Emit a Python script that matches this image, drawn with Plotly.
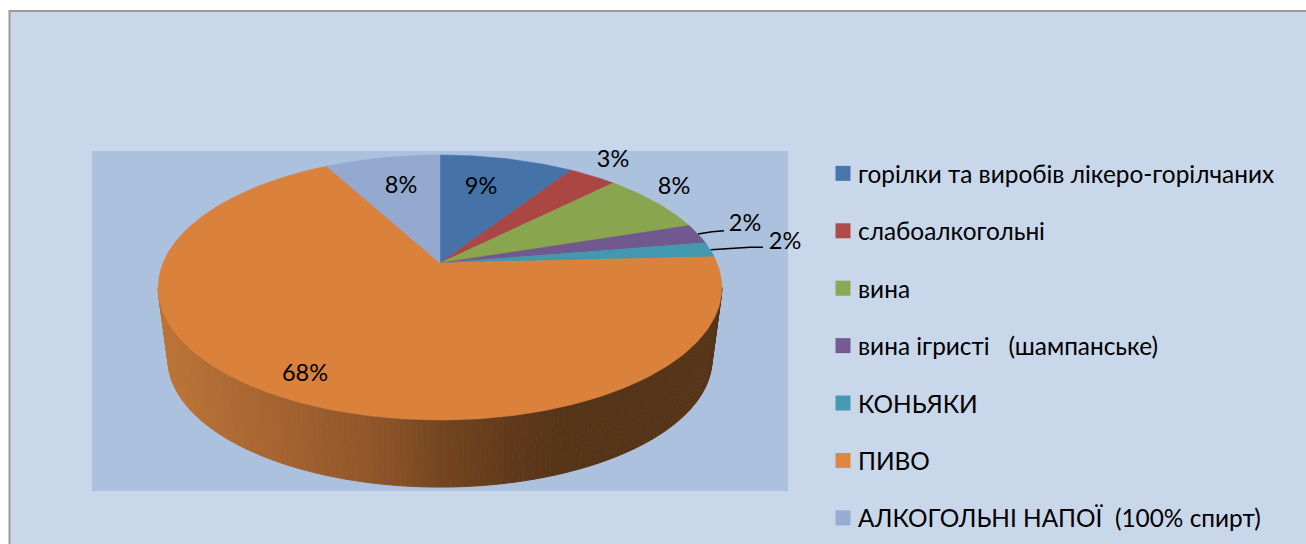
import numpy as np
import plotly.graph_objects as go

# ---- data ----
categories = ["горілки та виробів лікеро-горілчаних", "слабоалкогольні", "вина",
              "вина ігристі   (шампанське)", "КОНЬЯКИ", "ПИВО", "АЛКОГОЛЬНІ НАПОЇ  (100% спирт)"]
values = [9.2, 3.3, 7.5, 2.4, 1.8, 67.9, 7.9]
colors = ["#4572A7", "#AA4643", "#89A54E", "#71588F", "#4198AF", "#DA813B", "#93A9CF"]
swatches = ["#4A76AE", "#AF4B48", "#8CA852", "#745C93", "#4599B2", "#E0863F", "#97ACD1"]

# ---- projection of the tilted pie (picture pixels) ----
CX, APEX_Y, A, B, K = 440.0, 263.0, 277.0, 128.0, 0.185
S, LOW_Y = 0.965, 335.5
FONT = "Lato"


def rim(theta, scale=1.0, y0=APEX_Y):
    w = 1 + K * np.cos(theta)
    return CX + scale * A * np.sin(theta) / w, y0 - scale * B * np.cos(theta) / w


fig = go.Figure()

# side wall of the beer slice, shaded left to right
t0, t1 = np.arccos(-K), 2 * np.pi - np.arccos(-K)
edges = np.linspace(t1, t0, 161)
for a, b in zip(edges[:-1], edges[1:]):
    ts = np.linspace(a, b, 3)
    xt, yt = rim(ts)
    xb, yb = rim(ts[::-1], S, LOW_Y)
    xm = float(np.mean(xt))
    r = np.interp(xm, [160, 250, 380, 440, 520, 570], [190, 170, 142, 116, 95, 86])
    g = np.interp(xm, [160, 250, 380, 440, 520, 570], [115, 103, 84, 70, 56, 52])
    bl = np.interp(xm, [160, 250, 380, 440, 520, 570], [53, 50, 41, 31, 26, 24])
    c = f"rgb({r:.0f},{g:.0f},{bl:.0f})"
    fig.add_trace(go.Scatter(x=np.r_[xt, xb], y=np.r_[yt, yb], mode="lines", fill="toself",
                             fillcolor=c, line=dict(color=c, width=1),
                             hoverinfo="skip", showlegend=False))

# top face slices
fr = np.array(values) / sum(values)
cum = np.r_[0, np.cumsum(fr)] * 2 * np.pi
for i, name in enumerate(categories):
    ts = np.linspace(cum[i], cum[i + 1], max(4, int(fr[i] * 400)))
    x, y = rim(ts)
    fig.add_trace(go.Scatter(x=np.r_[CX, x, CX], y=np.r_[APEX_Y, y, APEX_Y], mode="lines",
                             fill="toself", fillcolor=colors[i],
                             line=dict(color=colors[i], width=0.5),
                             name=name, text=f"{name}: {values[i]:.0f}%", hoverinfo="text",
                             showlegend=False))

# legend entries
for i, name in enumerate(categories):
    fig.add_trace(go.Scatter(x=[None], y=[None], mode="markers", name=name, legendgroup=str(i),
                             marker=dict(symbol="square", size=15, color=swatches[i])))

# percent labels
lx = [481, 613, 674, 745, 785, 305, 401]
ly = [188, 161, 188, 225, 243, 375, 187]
fig.add_trace(go.Scatter(x=lx, y=ly, mode="text", text=[f"{v:.0f}%" for v in values],
                         textfont=dict(family=FONT, size=23.5, color="#000000"),
                         hoverinfo="skip", showlegend=False))

# leader lines
shapes = [
    dict(type="rect", xref="x", yref="y", x0=9.5, x1=1320, y0=11, y1=560,
         fillcolor="#C8D7EA", line=dict(color="#9A9A9A", width=2), layer="below"),
    dict(type="rect", xref="x", yref="y", x0=92, x1=788, y0=151, y1=491,
         fillcolor="#ABC1DE", line=dict(width=0), layer="below"),
]
for px, py in [([698, 712, 724], [234, 231.7, 230.7]), ([710.7, 750, 763], [249.7, 247.3, 247.3])]:
    fig.add_trace(go.Scatter(x=px, y=py, mode="lines", line=dict(color="#000000", width=1.5),
                             hoverinfo="skip", showlegend=False))

fig.update_layout(
    width=1306, height=544, margin=dict(l=0, r=0, t=0, b=0),
    paper_bgcolor="#FFFFFF", plot_bgcolor="rgba(0,0,0,0)",
    xaxis=dict(range=[0, 1306], visible=False, fixedrange=True),
    yaxis=dict(range=[544, 0], visible=False, fixedrange=True),
    shapes=shapes, showlegend=True,
    legend=dict(x=818 / 1306, y=1 - 151 / 544, xanchor="left", yanchor="top",
                bgcolor="rgba(0,0,0,0)", tracegroupgap=22.7,
                font=dict(family=FONT, size=24.4, color="#000000"), itemclick=False),
)
fig.write_html(
    "out.html",
    config={"displayModeBar": False},
    post_script="document.body.style.margin='0';document.documentElement.style.overflow='hidden';"
                "document.querySelectorAll('.legendsymbols').forEach(function(e){e.setAttribute('transform','translate(5,0)');});",
)
